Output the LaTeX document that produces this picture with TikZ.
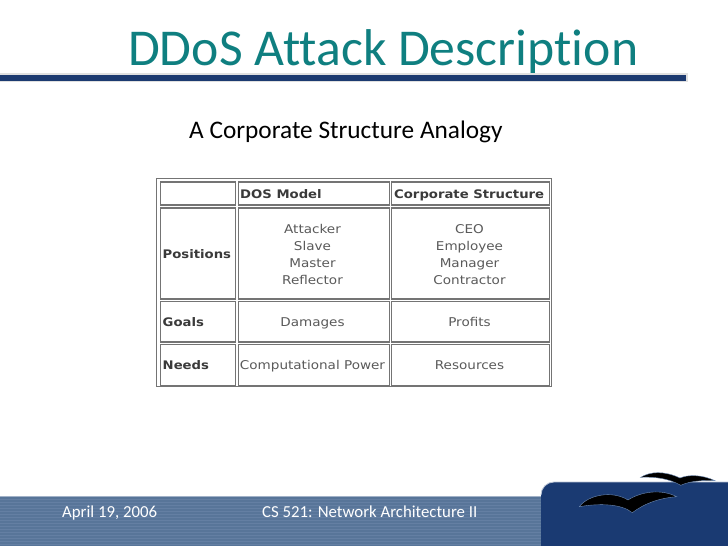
\documentclass[tikz,border=0pt]{standalone}
\usepackage{fontspec}
\setmainfont{Carlito}[Ligatures={NoCommon,NoRare}]
\newfontfamily\tablefont{DejaVu Sans}[FakeStretch=1.12]
\usetikzlibrary{positioning,calc}
\definecolor{titleteal}{HTML}{0F7F80}
\definecolor{rulenavy}{HTML}{1C3A70}
\definecolor{bandblue}{HTML}{587599}
\definecolor{bandline}{HTML}{647FA3}
\definecolor{blocknavy}{HTML}{1A3A72}
\definecolor{birdedge}{HTML}{6F8DB8}
\definecolor{cellgray}{HTML}{747474}
\definecolor{cellhead}{HTML}{3A3A3A}
\definecolor{celltext}{HTML}{5A5A5A}
\tikzset{
    tablecell/.style={draw=cellgray, line width=1.5pt, inner sep=0pt, anchor=north west},
    headtext/.style={font=\tablefont\bfseries\fontsize{11.8}{11.8}\selectfont, text=cellhead, inner sep=0pt},
    bodytext/.style={font=\tablefont\fontsize{12.1}{17}\selectfont, text=celltext, inner sep=0pt, align=center, anchor=base},
    foottext/.style={font=\fontsize{16.8}{16.8}\selectfont, text=white, inner sep=0pt, anchor=base west},
    bird/.style={fill=black, draw=birdedge, line width=0.4pt}
}
\begin{document}
\begin{tikzpicture}[x=1pt,y=-1pt]
    \useasboundingbox (0,0) rectangle (728,546);
    \fill[white] (0,0) rectangle (728,546);

    % Title and rule
    \node[font=\fontsize{51.7}{51.7}\selectfont, text=titleteal, inner sep=0pt, anchor=base west] (title) at (128,65) {DDoS Attack Description};
    \fill[black!12] (0,73) rectangle (688,82);
    \fill[rulenavy] (0,74.5) rectangle (686,80.5);
    \node[font=\fontsize{25.3}{25.3}\selectfont, text=black, inner sep=0pt, anchor=base west] (subtitle) at (189,138) {A Corporate Structure Analogy};

    % Table frame
    \draw[cellgray, line width=1.5pt] (156.5,178.5) rectangle (551.5,386.5);

    % Cells
    \foreach \name/\x/\y/\w/\h in {
        c11/159.5/181/75/23, c12/237.5/181/151/23, c13/390.5/181/158/23,
        c21/159.5/207/75/91, c22/237.5/207/151/91, c23/390.5/207/158/91,
        c31/159.5/300.5/75/40.5, c32/237.5/300.5/151/40.5, c33/390.5/300.5/158/40.5,
        c41/159.5/343.5/75/41, c42/237.5/343.5/151/41, c43/390.5/343.5/158/41} {
        \node[tablecell, minimum width=\w pt, minimum height=\h pt] (\name) at (\x,\y) {};
    }

    % Header and row labels
    \node[headtext, anchor=base west] (dos) at (240,198) {DOS Model};
    \node[headtext, anchor=base west] (corp) at (394,198) {Corporate Structure};
    \foreach \name/\y/\t in {pos/258/Positions, goals/326/Goals, needs/369/Needs} {
        \node[headtext, anchor=base west] (\name) at (162.5,\y) {\t};
    }

    % Body text
    \foreach \name/\x/\y/\t in {attacker/312.5/233.5/Attacker, slave/312.5/250.5/Slave, master/312.5/267.5/Master, reflector/312.5/284.5/Reflector,
        ceo/469.5/233.5/CEO, employee/469.5/250.5/Employee, manager/469.5/267.5/Manager, contractor/469.5/284.5/Contractor,
        damages/312.5/326.5/Damages, profits/469.5/326.5/Profits,
        power/312.5/369.5/Computational Power, resources/469.5/369.5/Resources} {
        \node[bodytext] (\name) at (\x,\y) {\t};
    }

    % Footer band
    \fill[bandblue] (0,495.5) rectangle (545,546);
    \draw[bandline!60!white, line width=1pt] (0,496) -- (545,496);
    \foreach \y in {499,502,...,545} {
        \draw[bandline, line width=0.8pt] (0,\y) -- (545,\y);
    }
    \fill[blocknavy] (541,546) -- (541,495) arc[start angle=180, end angle=270, radius=13] -- (728,482) -- (728,546) -- cycle;
    \draw[white!70!blocknavy, line width=0.8pt] (541,495) arc[start angle=180, end angle=270, radius=13] -- (728,482);

    % Birds
    \draw[bird] (640.7,477.3) .. controls (650,471.5) and (664,470.5) .. (680,478)
        .. controls (688,474.5) and (702,474.5) .. (715,480.7)
        .. controls (703,480) and (690,481) .. (680.7,485.3)
        .. controls (670,479) and (656,476.5) .. cycle;
    \draw[bird] (579.3,506.7) .. controls (588,495) and (612,490) .. (628,500)
        .. controls (642,491) and (662,489) .. (676.7,496.7)
        .. controls (660,498) and (645,503) .. (632.3,512.7)
        .. controls (622,504) and (600,503) .. cycle;

    % Footer text
    \node[foottext] (date) at (62,517) {April 19, 2006};
    \node[foottext] (course) at (262,517) {CS 521: Network Architecture II};
\end{tikzpicture}
\end{document}
